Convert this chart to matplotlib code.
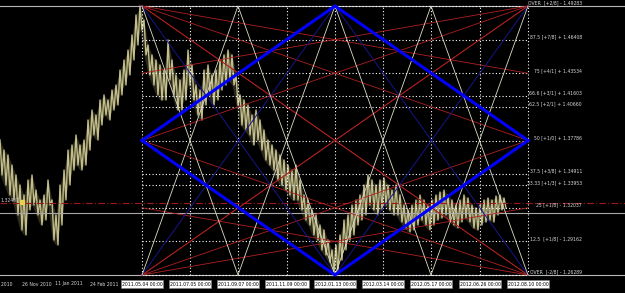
import numpy as np
import matplotlib
matplotlib.use("Agg")
import matplotlib.pyplot as plt

FONT = ['DejaVu Sans']
FS = 3.7

# ---- price bars (bar index, high, low) ----
bars = list(range(0, 505, 4))
highs = [1.3783, 1.3697, 1.3655, 1.3569, 1.3484, 1.3398, 1.3313, 1.3441, 1.3484, 1.3355,
         1.3270, 1.3313, 1.3441, 1.3270, 1.3142, 1.3398, 1.3526, 1.3697, 1.3740, 1.3826,
         1.3740, 1.3783, 1.3954, 1.4039, 1.3997, 1.4125, 1.4168, 1.4125, 1.4210, 1.4253,
         1.4381, 1.4467, 1.4552, 1.4681, 1.4852, 1.4928, 1.4809, 1.4595, 1.4510, 1.4467,
         1.4424, 1.4381, 1.4638, 1.4467, 1.4339, 1.4296, 1.4381, 1.4552, 1.4424, 1.4253,
         1.4210, 1.4381, 1.4424, 1.4339, 1.4381, 1.4467, 1.4510, 1.4552, 1.4510, 1.4339,
         1.4168, 1.4125, 1.4082, 1.3997, 1.4039, 1.3954, 1.3868, 1.3783, 1.3740, 1.3697,
         1.3655, 1.3612, 1.3569, 1.3526, 1.3569, 1.3441, 1.3313, 1.3270, 1.3185, 1.3142,
         1.3056, 1.3014, 1.2928, 1.2843, 1.2885, 1.2971, 1.3099, 1.3142, 1.3227, 1.3270,
         1.3313, 1.3398, 1.3484, 1.3441, 1.3398, 1.3441, 1.3458, 1.3398, 1.3355, 1.3398,
         1.3313, 1.3227, 1.3185, 1.3227, 1.3270, 1.3313, 1.3270, 1.3227, 1.3270, 1.3313,
         1.3338, 1.3355, 1.3313, 1.3270, 1.3227, 1.3270, 1.3313, 1.3287, 1.3227, 1.3202,
         1.3227, 1.3270, 1.3287, 1.3270, 1.3304, 1.3313, 1.3287]
lows = [1.3484, 1.3398, 1.3313, 1.3270, 1.3142, 1.3014, 1.2971, 1.3185, 1.3227, 1.3142,
        1.3056, 1.3099, 1.3227, 1.2928, 1.2885, 1.3056, 1.3270, 1.3398, 1.3526, 1.3569,
        1.3526, 1.3569, 1.3697, 1.3826, 1.3783, 1.3911, 1.3997, 1.3954, 1.4039, 1.4082,
        1.4168, 1.4253, 1.4339, 1.4467, 1.4595, 1.4723, 1.4510, 1.4339, 1.4253, 1.4168,
        1.4125, 1.4125, 1.4296, 1.4168, 1.4039, 1.4039, 1.4125, 1.4253, 1.4125, 1.3997,
        1.3954, 1.4082, 1.4168, 1.4082, 1.4125, 1.4210, 1.4253, 1.4296, 1.4253, 1.4082,
        1.3911, 1.3868, 1.3826, 1.3740, 1.3783, 1.3697, 1.3612, 1.3569, 1.3526, 1.3441,
        1.3398, 1.3355, 1.3313, 1.3270, 1.3270, 1.3185, 1.3099, 1.3056, 1.2971, 1.2928,
        1.2843, 1.2800, 1.2740, 1.2655, 1.2646, 1.2757, 1.2843, 1.2928, 1.2971, 1.3056,
        1.3099, 1.3142, 1.3227, 1.3185, 1.3142, 1.3185, 1.3227, 1.3185, 1.3142, 1.3142,
        1.3082, 1.3031, 1.2997, 1.3014, 1.3056, 1.3099, 1.3056, 1.3014, 1.3056, 1.3099,
        1.3116, 1.3142, 1.3099, 1.3056, 1.3031, 1.3082, 1.3116, 1.3082, 1.3031, 1.3014,
        1.3056, 1.3082, 1.3099, 1.3082, 1.3142, 1.3185, 1.3202]

# ---- Murrey levels ----
level_pcts = [100, 87.5, 75, 66.67, 62.5, 50, 37.5, 33.33, 25, 12.5, 0]
level_prices = [1.49283, 1.46408, 1.43534, 1.41603, 1.40660, 1.37786, 1.34911,
                1.33953, 1.32037, 1.29162, 1.26289]
level_labels = ["OVER  [+2/8] - 1.49283", "87.5 [+7/8] + 1.46408", "75 [+4/1] + 1.43534",
                "66.6 [+3/1] + 1.41603", "62.5 [+2/1] + 1.40660", "50 [+1/0] + 1.37786",
                "37.5 [+3/8] + 1.34911", "33.33 [+1/3] + 1.33953", "25 [+1/8] - 1.32037",
                "12.5  [+1/8] - 1.29162", "OVER  [-2/8] - 1.26289"]

# ---- time lines (bar index) and their labels ----
time_bars = [142, 190, 238, 287, 335, 383, 431, 480, 528]
time_labels = ["2011.05.04 00:00", "2011.07.05 00:00", "2011.09.07 00:00",
               "2011.11.09 00:00", "2012.01.13 00:00", "2012.03.14 00:00",
               "2012.05.17 00:00", "2012.06.26 00:00", "2012.08.10 00:00"]
axis_date_bars = [12, 22, 55, 90]
axis_date_labels = ["11 Oct 2010", "26 Nov 2010", "11 Jan 2011", "24 Feb 2011"]

current_price = 1.32407
current_label = "1.32407"
hline_price = 1.3159

# Gann grid segments as (time index, level pct) pairs
red_segments = [((0, 100), (8, 75)), ((0, 100), (8, 50)), ((0, 100), (8, 0)),
                ((0, 0), (8, 25)), ((0, 0), (8, 50)), ((0, 0), (8, 100)),
                ((8, 100), (0, 75)), ((8, 100), (0, 50)), ((8, 100), (0, 0)),
                ((8, 0), (0, 25)), ((8, 0), (0, 50)), ((8, 0), (0, 100))]
blue_thin_segments = [((0, 100), (4, 0)), ((0, 0), (4, 100)),
                      ((8, 100), (4, 0)), ((8, 0), (4, 100))]
white_paths = [[(0, 100), (2, 0), (4, 100), (6, 0), (8, 100)],
               [(0, 0), (2, 100), (4, 0), (6, 100), (8, 0)]]
diamond_path = [(0, 50), (4, 100), (8, 50), (4, 0), (0, 50)]

lvl = dict(zip(level_pcts, level_prices))


def pt(p):
    return time_bars[p[0]], lvl[p[1]]


fig = plt.figure(figsize=(6.25, 2.93), dpi=100, facecolor='black')
ax = fig.add_axes([0, 15 / 293, 1, 278 / 293])
ax.set_facecolor('black')
ax.set_xlim(0, 625)
ax.set_ylim(1.26033, 1.49796)
ax.axis('off')

price_col = '#c4bf8a'
b = np.asarray(bars, dtype=float)
zx = np.column_stack([b, b + 2]).ravel()
zy = np.column_stack([highs, lows]).ravel()
ax.fill_between(bars, lows, highs, color=price_col, alpha=0.22, lw=0, zorder=2)
ax.plot(zx, zy, color=price_col, lw=1.0, zorder=2)

# full-width lines
ax.axhline(lvl[100], color='#b8b8b8', lw=0.8, zorder=3)
ax.axhline(lvl[0], color='#b8b8b8', lw=0.8, zorder=3)
ax.axhline(hline_price, color='#a8a8a8', lw=0.8, zorder=3)
ax.axhline(current_price, color='#a01818', lw=0.8, ls=(0, (6, 2, 1, 2)), zorder=3)
ax.text(19, current_price, current_label, color='#d0d0d0', fontsize=FS,
        family=FONT, stretch='condensed', ha='right', va='bottom', zorder=6)
ax.plot([22], [current_price + 0.0012], marker='s', ms=2.3, color='#e8d050', zorder=6)

# dotted level lines
for p in level_prices:
    ax.plot([time_bars[0], time_bars[-1]], [p, p], color='white', lw=0.8,
            ls=(0, (1, 2)), zorder=4)
for t in time_bars:
    ax.plot([t, t], [lvl[0], lvl[100]], color='white', lw=0.8, ls=(0, (1, 2)), zorder=4)

for a, c in red_segments:
    (x0, y0), (x1, y1) = pt(a), pt(c)
    ax.plot([x0, x1], [y0, y1], color='#b02020', lw=0.6, zorder=5)
for a, c in blue_thin_segments:
    (x0, y0), (x1, y1) = pt(a), pt(c)
    ax.plot([x0, x1], [y0, y1], color='#16168c', lw=0.7, zorder=5)
for path in white_paths:
    xs, ys = zip(*[pt(p) for p in path])
    ax.plot(xs, ys, color='#dcdcc8', lw=0.6, zorder=5)
xs, ys = zip(*[pt(p) for p in diamond_path])
ax.plot(xs, ys, color='#0000ff', lw=2.2, zorder=6, solid_joinstyle='miter')

# level labels
for p, lab in zip(level_prices, level_labels):
    ax.annotate(lab, (582, p), xytext=(0, 0.3), textcoords='offset points',
                color='#d8d8d8', fontsize=FS, family=FONT, stretch='condensed',
                ha='right', va='bottom', zorder=7, annotation_clip=False)

# bottom time labels
xt = ax.get_xaxis_transform()
for t, lab in zip(time_bars, time_labels):
    ax.text(t, -6 / 278, lab, transform=xt, ha='center', va='center', fontsize=FS,
            family=FONT, stretch='condensed', color='black', clip_on=False,
            bbox=dict(boxstyle='square,pad=0.2', fc='white', ec='#808080', lw=0.4))
for i, (t, lab) in enumerate(zip(axis_date_bars, axis_date_labels)):
    ax.text(t, -6 / 278, lab, transform=xt, ha='right' if i == 0 else 'left',
            va='center', fontsize=FS, family=FONT, stretch='condensed',
            color='#d8d8d8', clip_on=False)

fig.savefig('out.png', dpi=100, facecolor='black')
